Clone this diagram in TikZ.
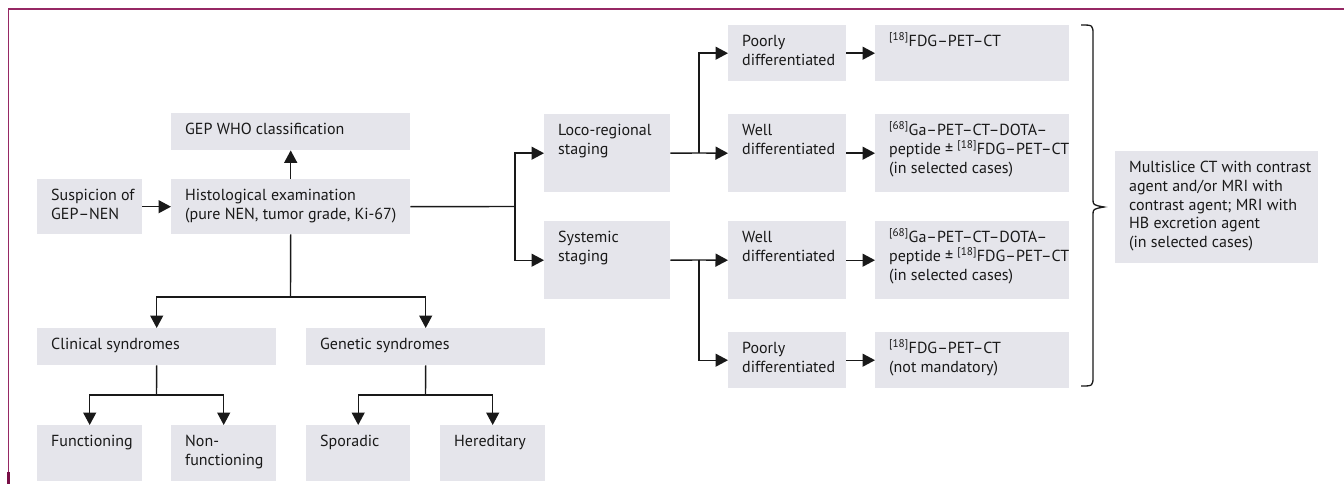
\documentclass[tikz,border=0pt]{standalone}
\usepackage{fontspec}
\setmainfont{PT Sans}
\usetikzlibrary{arrows.meta}
\definecolor{boxgray}{RGB}{229,229,235}
\definecolor{lineblk}{RGB}{25,25,25}
\definecolor{frame}{RGB}{150,40,100}
\definecolor{framedark}{RGB}{120,15,70}
\newcommand\gb[6]{\node[bx,minimum width=#4pt,minimum height=#5pt,anchor=north west] (#1) at (#2,#3) {\hspace*{14pt}\parbox[c][#5pt][t]{\dimexpr#4pt-14pt\relax}{\raggedright\rule{0pt}{21.5pt}#6}};}
\newcommand\supn[1]{\textsuperscript{[#1]}}
\begin{document}
\begin{tikzpicture}[x=1pt,y=-1pt,
  bx/.style={fill=boxgray,inner sep=0pt,font=\fontsize{16}{18.7}\selectfont,text=black!90},
  conn/.style={draw=lineblk,line width=1.4pt},
  arr/.style={conn,-{Triangle[length=12.5pt,width=13pt]}}]
\useasboundingbox (0,0) rectangle (1344,484);
% frame
\draw[frame,line width=1.6pt] (1344,9) -- (8.5,9) -- (8.5,484);
\draw[framedark,line width=2.2pt] (8.5,472) -- (8.5,484);
% boxes
\gb{susp}{37}{179}{105}{55}{Suspicion of\\GEP–NEN}
\gb{hist}{171}{179}{239}{55}{Histological examination\\(pure NEN, tumor grade, Ki-67)}
\gb{who}{171}{113}{239}{37}{GEP WHO classification}
\gb{clin}{37}{328}{239}{37}{Clinical syndromes}
\gb{gen}{306}{328}{239}{37}{Genetic syndromes}
\gb{func}{37}{425}{105}{56}{Functioning}
\gb{nonf}{171}{425}{105}{56}{Non-\\functioning}
\gb{spor}{306}{425}{104}{56}{Sporadic}
\gb{her}{440}{425}{105}{56}{Hereditary}
\gb{loco}{544}{114}{126}{78}{Loco-regional\\staging}
\gb{sys}{544}{221}{126}{78}{Systemic\\staging}
\gb{poor1}{728}{25}{118}{56}{Poorly\\differentiated}
\gb{well1}{728}{114}{118}{78}{Well\\differentiated}
\gb{well2}{728}{221}{118}{78}{Well\\differentiated}
\gb{poor2}{728}{332}{118}{56}{Poorly\\differentiated}
\gb{fdg1}{875}{25}{194}{56}{\supn{18}FDG–PET–CT}
\gb{ga1}{875}{114}{194}{78}{\supn{68}Ga–PET–CT–DOTA–\\peptide ± \supn{18}FDG–PET–CT\\(in selected cases)}
\gb{ga2}{875}{221}{194}{78}{\supn{68}Ga–PET–CT–DOTA–\\peptide ± \supn{18}FDG–PET–CT\\(in selected cases)}
\gb{fdg2}{875}{332}{194}{56}{\supn{18}FDG–PET–CT\\(not mandatory)}
\gb{multi}{1115}{151}{203}{112}{Multislice CT with contrast\\agent and/or MRI with\\contrast agent; MRI with\\HB excretion agent\\(in selected cases)}
% fork points
\coordinate (f1) at (515,206.5);
\coordinate (f2) at (699,153);
\coordinate (f3) at (699,260);
\coordinate (f4) at (290.5,297);
\coordinate (f5) at (156.5,395);
\coordinate (f6) at (425.5,395);
% connectors
\draw[arr] (susp.east) -- (hist.west);
\draw[arr] (hist.north) -- (who.south);
\draw[conn] (hist.east) -- (f1);
\draw[arr] (f1) |- (loco.west);
\draw[arr] (f1) |- (sys.west);
\draw[conn] (loco.east) -- (f2);
\draw[arr] (f2) -- (well1.west);
\draw[arr] (f2) |- (poor1.west);
\draw[conn] (sys.east) -- (f3);
\draw[arr] (f3) -- (well2.west);
\draw[arr] (f3) |- (poor2.west);
\draw[arr] (poor1.east) -- (fdg1.west);
\draw[arr] (well1.east) -- (ga1.west);
\draw[arr] (well2.east) -- (ga2.west);
\draw[arr] (poor2.east) -- (fdg2.west);
\draw[conn] (hist.south) -- (f4);
\draw[arr] (f4) -| (clin.north);
\draw[arr] (f4) -| (gen.north);
\draw[conn] (clin.south) -- (f5);
\draw[arr] (f5) -| (func.north);
\draw[arr] (f5) -| (nonf.north);
\draw[conn] (gen.south) -- (f6);
\draw[arr] (f6) -| (spor.north);
\draw[arr] (f6) -| (her.north);
% brace
\draw[draw=lineblk,line width=1.3pt] (1081,25) .. controls (1093,25) .. (1093,35) -- (1093,199) .. controls (1093,205) .. (1104,207) .. controls (1093,209) .. (1093,215) -- (1093,376) .. controls (1093,386) .. (1081,386);
\end{tikzpicture}
\end{document}
